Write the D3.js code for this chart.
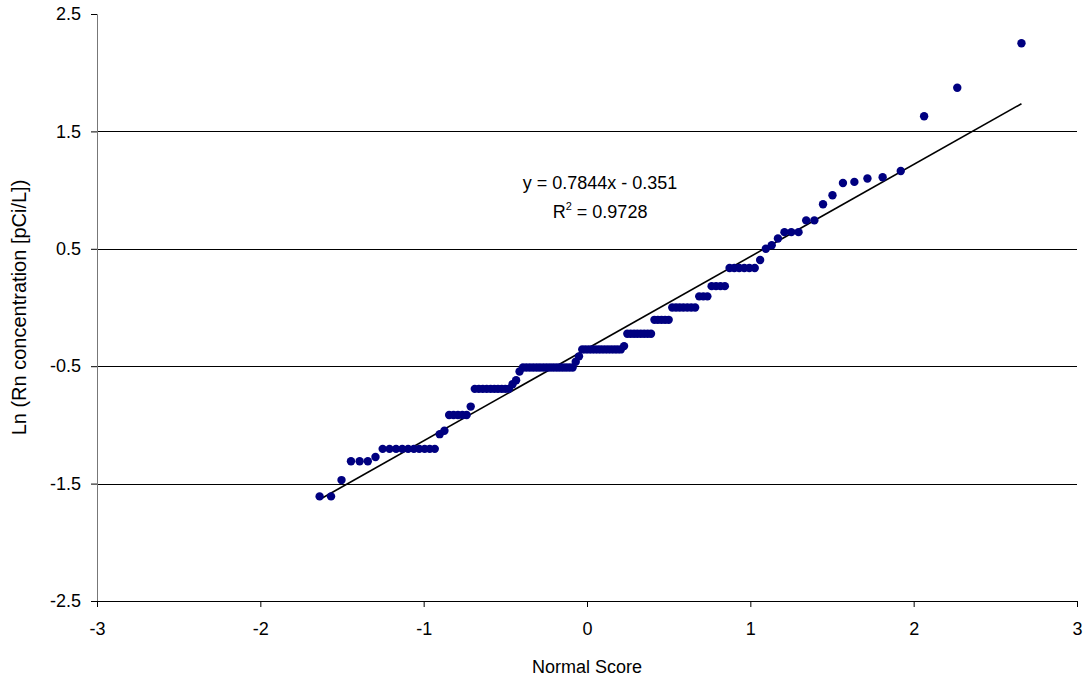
<!DOCTYPE html>
<html>
<head>
<meta charset="utf-8">
<script src="https://cdn.jsdelivr.net/npm/d3@7"></script>
<style>
  body { margin: 0; background: #fff; }
  text { font-family: "Liberation Sans", Arial, sans-serif; }
</style>
</head>
<body>
<svg class="chart" width="1087" height="683"></svg>
<script>
// normal scores (x) and ln of radon concentration (y)
const normalScore = [
  -1.637, -1.567, -1.503, -1.445, -1.392, -1.342, -1.295, -1.251, -1.209, -1.169,
  -1.131, -1.095, -1.060, -1.027, -0.994, -0.963, -0.932, -0.902, -0.873, -0.844,
  -0.817, -0.790, -0.763, -0.737, -0.712, -0.687, -0.662, -0.638, -0.614, -0.590,
  -0.567, -0.545, -0.522, -0.500, -0.478, -0.456, -0.434, -0.413, -0.392, -0.371,
  -0.350, -0.329, -0.308, -0.288, -0.267, -0.247, -0.227, -0.207, -0.187, -0.168,
  -0.148, -0.128, -0.108, -0.088, -0.069, -0.049, -0.029, -0.010, 0.010, 0.029,
  0.049, 0.069, 0.088, 0.108, 0.128, 0.148, 0.168, 0.187, 0.207, 0.227,
  0.247, 0.267, 0.288, 0.308, 0.329, 0.350, 0.371, 0.392, 0.413, 0.434,
  0.456, 0.478, 0.500, 0.522, 0.545, 0.567, 0.590, 0.614, 0.638, 0.662,
  0.687, 0.712, 0.737, 0.763, 0.790, 0.817, 0.844, 0.873, 0.902, 0.932,
  0.963, 0.994, 1.027, 1.060, 1.095, 1.131, 1.169, 1.209, 1.251, 1.295,
  1.342, 1.392, 1.445, 1.503, 1.567, 1.637, 1.717, 1.810, 1.921, 2.064,
  2.267, 2.660
];
const lnConc = [
  -1.609, -1.609, -1.470, -1.309, -1.309, -1.309, -1.273, -1.204, -1.204, -1.204,
  -1.204, -1.204, -1.204, -1.204, -1.204, -1.204, -1.204, -1.079, -1.050, -0.916,
  -0.916, -0.916, -0.916, -0.916, -0.844, -0.693, -0.693, -0.693, -0.693, -0.693,
  -0.693, -0.693, -0.693, -0.693, -0.693, -0.654, -0.620, -0.545, -0.511, -0.511,
  -0.511, -0.511, -0.511, -0.511, -0.511, -0.511, -0.511, -0.511, -0.511, -0.511,
  -0.511, -0.511, -0.511, -0.511, -0.462, -0.416, -0.357, -0.357, -0.357, -0.357,
  -0.357, -0.357, -0.357, -0.357, -0.357, -0.357, -0.357, -0.357, -0.357, -0.329,
  -0.223, -0.223, -0.223, -0.223, -0.223, -0.223, -0.223, -0.223, -0.105, -0.105,
  -0.105, -0.105, -0.105, 0, 0, 0, 0, 0, 0, 0,
  0.095, 0.095, 0.095, 0.182, 0.182, 0.182, 0.182, 0.336, 0.336, 0.336,
  0.336, 0.336, 0.336, 0.405, 0.500, 0.531, 0.588, 0.642, 0.642, 0.642,
  0.742, 0.742, 0.880, 0.956, 1.060, 1.070, 1.099, 1.110, 1.163, 1.629,
  1.872, 2.251
];
// trendline coefficients [slope, intercept] and its labels
const fitCoef = [0.7844, -0.351];
const fitLabel = ['y = 0.7844x - 0.351', 'R', '2', ' = 0.9728'];

const xTicks = [-3, -2, -1, 0, 1, 2, 3];
const yTicks = [-2.5, -1.5, -0.5, 0.5, 1.5, 2.5];
const xTitle = 'Normal Score';
const yTitle = 'Ln (Rn concentration [pCi/L])';

const svg = d3.select('.chart');
const margin = { top: 14, right: 10, bottom: 82, left: 97 };
const width = +svg.attr('width');
const height = +svg.attr('height');
const innerWidth = width - margin.left - margin.right;
const innerHeight = height - margin.top - margin.bottom;

const xScale = d3.scaleLinear().domain([-3, 3]).range([0, innerWidth]);
const yScale = d3.scaleLinear().domain([-2.5, 2.5]).range([innerHeight, 0]);

const g = svg.append('g')
  .attr('transform', `translate(${margin.left}, ${margin.top})`);

// horizontal gridlines
g.append('g')
  .selectAll('line')
  .data(yTicks.filter(d => d > -2.5 && d < 2.5))
  .join('line')
  .attr('x1', 0)
  .attr('x2', innerWidth)
  .attr('y1', d => Math.round(yScale(d)) + 0.5)
  .attr('y2', d => Math.round(yScale(d)) + 0.5)
  .attr('stroke', '#000')
  .attr('stroke-width', 1);

// y axis
const yAxis = g.append('g')
  .call(d3.axisLeft(yScale).tickValues(yTicks).tickSize(6).tickPadding(10)
    .tickFormat(d => d.toFixed(1)));
yAxis.select('.domain').attr('stroke', '#777');
yAxis.selectAll('text').attr('font-size', 18).attr('fill', '#000');

// x axis
const xAxis = g.append('g')
  .attr('transform', `translate(0, ${innerHeight})`)
  .call(d3.axisBottom(xScale).tickValues(xTicks).tickSize(6).tickPadding(15)
    .tickFormat(d => String(d)));
xAxis.selectAll('text').attr('font-size', 18).attr('fill', '#000');

// trendline over the range of the data
const xExt = d3.extent(normalScore);
g.append('line')
  .attr('x1', xScale(xExt[0]))
  .attr('y1', yScale(fitCoef[0] * xExt[0] + fitCoef[1]))
  .attr('x2', xScale(xExt[1]))
  .attr('y2', yScale(fitCoef[0] * xExt[1] + fitCoef[1]))
  .attr('stroke', '#000')
  .attr('stroke-width', 1.6);

// points
g.append('g')
  .selectAll('circle')
  .data(normalScore)
  .join('circle')
  .attr('cx', d => xScale(d))
  .attr('cy', (d, i) => yScale(lnConc[i]))
  .attr('r', 4.2)
  .attr('fill', '#000080');

// equation label
const eq = g.append('text')
  .attr('x', xScale(0.08))
  .attr('text-anchor', 'middle')
  .attr('font-size', 18);
eq.append('tspan').attr('x', xScale(0.08)).attr('y', 175).text(fitLabel[0]);
const r2 = g.append('text')
  .attr('x', xScale(0.08))
  .attr('y', 204)
  .attr('text-anchor', 'middle')
  .attr('font-size', 18);
r2.append('tspan').text(fitLabel[1]);
r2.append('tspan').attr('font-size', 11).attr('dy', -8).text(fitLabel[2]);
r2.append('tspan').attr('dy', 8).text(fitLabel[3]);

// axis titles
svg.append('text')
  .attr('x', margin.left + innerWidth / 2)
  .attr('y', 673)
  .attr('text-anchor', 'middle')
  .attr('font-size', 18)
  .text(xTitle);

svg.append('text')
  .attr('transform', `translate(26, ${margin.top + innerHeight / 2}) rotate(-90)`)
  .attr('text-anchor', 'middle')
  .attr('font-size', 20)
  .text(yTitle);
</script>
</body>
</html>
